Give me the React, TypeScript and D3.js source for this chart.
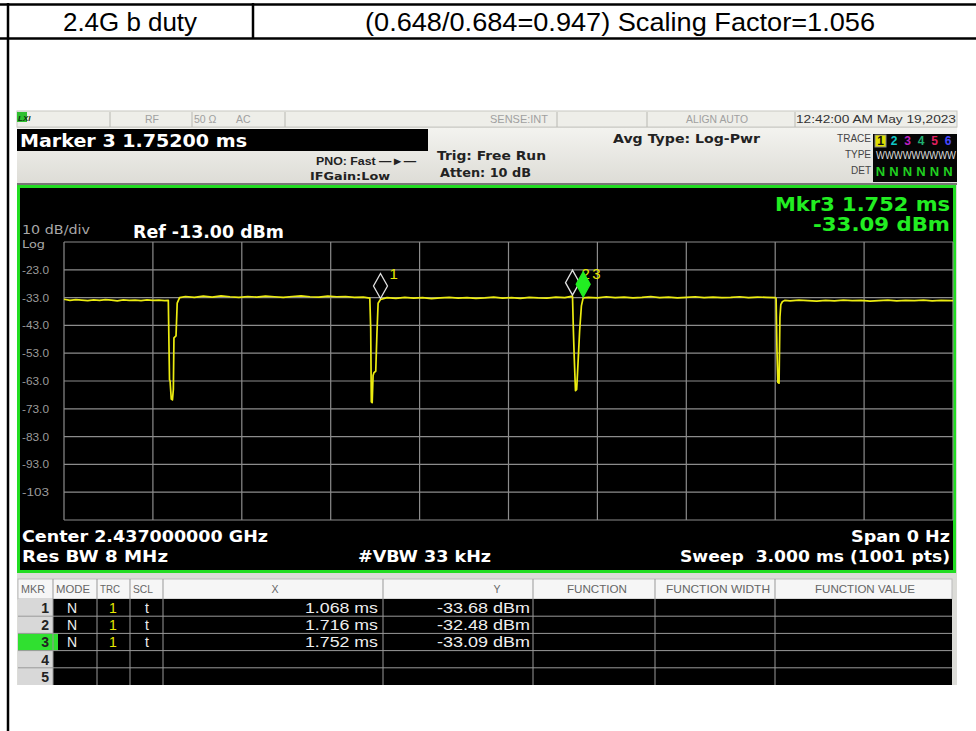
import React from "react";
import * as d3 from "d3";

// ---- data ----
const headerLeft = "2.4G b duty";
const headerRight = "(0.648/0.684=0.947) Scaling Factor=1.056";

const yTickValues = [-23, -33, -43, -53, -63, -73, -83, -93, -103];
const yTickLabels = ["-23.0", "-33.0", "-43.0", "-53.0", "-63.0", "-73.0", "-83.0", "-93.0", "-103"];
const xGridValues = [0, 0.3, 0.6, 0.9, 1.2, 1.5, 1.8, 2.1, 2.4, 2.7, 3.0];
const yGridValues = [-13, -23, -33, -43, -53, -63, -73, -83, -93, -103, -113];

// trace samples: [time ms, level dBm]
const traceSegA: [number, number][] = [
  [0, -33.6], [0.02, -34.0], [0.04, -33.7], [0.06, -33.9], [0.08, -34.1], [0.10, -33.8], [0.12, -34.0],
  [0.14, -33.7], [0.16, -33.9], [0.18, -34.2], [0.20, -33.8], [0.22, -34.0], [0.24, -33.9], [0.26, -34.1],
  [0.28, -33.8], [0.30, -34.0], [0.32, -33.9], [0.34, -34.1], [0.352, -34.0],
];
const traceDip1: [number, number][] = [
  [0.356, -62.5], [0.358, -63.0], [0.362, -69.5], [0.366, -69.8], [0.369, -66.0], [0.371, -47.5],
  [0.378, -46.8], [0.382, -35.0], [0.39, -33.0],
];
const traceSegB: [number, number][] = [
  [0.41, -32.6], [0.44, -32.9], [0.47, -32.5], [0.50, -32.8], [0.53, -32.4], [0.56, -32.7], [0.59, -32.9],
  [0.62, -32.6], [0.65, -32.8], [0.68, -32.5], [0.71, -32.7], [0.74, -32.9], [0.77, -32.6], [0.80, -32.4],
  [0.83, -32.7], [0.86, -32.8], [0.89, -32.5], [0.92, -32.7], [0.95, -32.6], [0.98, -32.9], [1.01, -32.8],
  [1.032, -33.2],
];
const traceDip2: [number, number][] = [
  [1.035, -44.0], [1.037, -70.5], [1.040, -70.8], [1.043, -61.0], [1.046, -60.0], [1.052, -59.5],
  [1.056, -46.0], [1.060, -35.0], [1.068, -33.7],
];
const traceSegC: [number, number][] = [
  [1.09, -33.0], [1.12, -33.3], [1.15, -32.9], [1.18, -33.2], [1.21, -33.0], [1.24, -33.4], [1.27, -33.1],
  [1.30, -32.9], [1.33, -33.2], [1.36, -33.0], [1.39, -33.3], [1.42, -33.1], [1.45, -32.8], [1.48, -33.2],
  [1.51, -33.0], [1.54, -33.3], [1.57, -32.9], [1.60, -33.1], [1.63, -33.2], [1.66, -32.8], [1.69, -33.0],
  [1.716, -32.5],
];
const traceDip3: [number, number][] = [
  [1.719, -45.0], [1.722, -55.0], [1.726, -66.5], [1.730, -66.0], [1.733, -60.0], [1.740, -45.0],
  [1.746, -36.0], [1.752, -33.1],
];
const traceSegD: [number, number][] = [
  [1.77, -32.9], [1.80, -33.1], [1.83, -32.7], [1.86, -33.0], [1.89, -32.8], [1.92, -33.1], [1.95, -32.9],
  [1.98, -32.6], [2.01, -33.0], [2.04, -32.8], [2.07, -33.1], [2.10, -32.9], [2.13, -32.7], [2.16, -33.0],
  [2.19, -32.8], [2.22, -33.0], [2.25, -32.9], [2.28, -32.7], [2.31, -33.0], [2.34, -32.8], [2.37, -32.9],
  [2.40, -33.0],
];
const traceDip4: [number, number][] = [
  [2.403, -33.2], [2.406, -52.0], [2.409, -63.5], [2.413, -63.8], [2.416, -40.0], [2.419, -35.5],
  [2.424, -34.5], [2.432, -34.0],
];
const traceSegE: [number, number][] = [
  [2.45, -34.2], [2.48, -33.9], [2.51, -34.1], [2.54, -34.3], [2.57, -34.0], [2.60, -34.2], [2.63, -33.9],
  [2.66, -34.1], [2.69, -34.0], [2.72, -34.3], [2.75, -34.1], [2.78, -33.9], [2.81, -34.2], [2.84, -34.0],
  [2.87, -34.1], [2.90, -33.9], [2.93, -34.2], [2.96, -34.0], [3.0, -34.1],
];

const markerIds = [1, 2, 3];
const markerTimes = [1.068, 1.716, 1.752];
const markerLevels = [-33.68, -32.48, -33.09];
const markerXText = ["1.068 ms", "1.716 ms", "1.752 ms"];
const markerYText = ["-33.68 dBm", "-32.48 dBm", "-33.09 dBm"];

const traceNumColors = ["#e8e800", "#10c8c8", "#c020c0", "#20b070", "#e02060", "#4848ff"];

const FONT = "'Liberation Sans', Arial, sans-serif";
const INST = "'DejaVu Sans', 'Liberation Sans', Arial, sans-serif";

export default function App() {
  const x = d3.scaleLinear().domain([0, 3]).range([64, 953]);
  const y = d3.scaleLinear().domain([-113, -13]).range([520, 242]);
  const pts: [number, number][] = [
    ...traceSegA, ...traceDip1, ...traceSegB, ...traceDip2, ...traceSegC,
    ...traceDip3, ...traceSegD, ...traceDip4, ...traceSegE,
  ];
  const line = d3
    .line<[number, number]>()
    .x((d) => x(d[0]))
    .y((d) => y(d[1]));
  const tracePath = line(pts) || "";

  const tableTop = 579;
  const headH = 20;
  const rowH = 17.2;
  const cols = [18, 53, 97, 130, 163, 383, 533, 655, 775, 952];

  const diamond = (cx: number, by: number) =>
    `M${cx},${by - 25} L${cx + 7},${by - 12.5} L${cx},${by} L${cx - 7},${by - 12.5} Z`;

  const T = (props: any) => <text lengthAdjust="spacingAndGlyphs" {...props} />;

  return (
    <svg
      width={976}
      height={731}
      viewBox="0 0 976 731"
      style={{ position: "absolute", left: 0, top: 0, background: "#fff" }}
      fontFamily={FONT}
    >
      <defs>
        <linearGradient id="hdr" x1="0" y1="0" x2="0" y2="1">
          <stop offset="0" stopColor="#f3f3ef" />
          <stop offset="1" stopColor="#dddcd6" />
        </linearGradient>
      </defs>
      <rect x={0} y={0} width={976} height={731} fill="#fff" />

      {/* outer document table */}
      <line x1={0} x2={976} y1={4.5} y2={4.5} stroke="#000" strokeWidth={2.5} />
      <line x1={0} x2={976} y1={38.5} y2={38.5} stroke="#000" strokeWidth={2.5} />
      <line x1={8} x2={8} y1={3} y2={731} stroke="#000" strokeWidth={2.5} />
      <line x1={253} x2={253} y1={3} y2={39} stroke="#000" strokeWidth={2.5} />
      <T x={63} y={31} fontSize={26} textLength={134} fill="#000">{headerLeft}</T>
      <T x={365} y={31} fontSize={26} textLength={510} fill="#000">{headerRight}</T>

      {/* screenshot frame */}
      <rect x={17} y={111} width={940} height={574} fill="#dcdcd8" />
      {/* status bar */}
      <rect x={17} y={111} width={940} height={16} fill="#eeeee9" stroke="#c8c8c2" strokeWidth={1} />
      <rect x={17} y={112} width={10} height={10} fill="#30c030" />
      <text x={18} y={121} fontSize={8} fontWeight="bold" fontStyle="italic" fill="#103010">LXI</text>
      {[110, 192, 285, 557, 647, 795].map((sx) => (
        <line key={sx} x1={sx} x2={sx} y1={112} y2={127} stroke="#b8b8b2" />
      ))}
      <text x={145} y={123} fontSize={10.5} fill="#a0a0a0">RF</text>
      <text x={194} y={123} fontSize={10.5} fill="#a0a0a0">50 Ω</text>
      <text x={236} y={123} fontSize={10.5} fill="#a0a0a0">AC</text>
      <T x={490} y={123} fontSize={10.5} textLength={58} fill="#a0a0a0">SENSE:INT</T>
      <T x={686} y={123} fontSize={10.5} textLength={62} fill="#a0a0a0">ALIGN AUTO</T>
      <T x={796} y={123} fontSize={11.5} textLength={160} fill="#333">12:42:00 AM May 19,2023</T>

      {/* header area */}
      <rect x={17} y={128} width={940} height={56} fill="url(#hdr)" />
      <rect x={17} y={129} width={411} height={22} fill="#000" />
      <T x={20} y={147} fontFamily={INST} fontSize={18} fontWeight="bold" textLength={227} fill="#fff">Marker 3 1.75200 ms</T>
      <T x={316} y={165} fontSize={11} fontWeight="bold" textLength={100} fill="#222">{"PNO: Fast  —►—"}</T>
      <T x={310} y={180} fontFamily={INST} fontSize={11} fontWeight="bold" textLength={80} fill="#222">IFGain:Low</T>
      <T x={437} y={160} fontFamily={INST} fontSize={12.5} fontWeight="bold" textLength={109} fill="#222">Trig: Free Run</T>
      <T x={440} y={177} fontFamily={INST} fontSize={12} fontWeight="bold" textLength={91} fill="#222">Atten: 10 dB</T>
      <T x={613} y={143} fontFamily={INST} fontSize={12.5} fontWeight="bold" textLength={147} fill="#222">Avg Type: Log-Pwr</T>
      <text x={871} y={142} fontSize={10} fill="#444" textAnchor="end">TRACE</text>
      <text x={871} y={158} fontSize={10} fill="#444" textAnchor="end">TYPE</text>
      <text x={871} y={174} fontSize={10} fill="#444" textAnchor="end">DET</text>
      <rect x={873} y={134} width={84} height={48} fill="#050505" />
      <rect x={875} y={135} width={11} height={12} fill="#e0e000" stroke="#888" />
      {traceNumColors.map((c, i) => (
        <text
          key={i}
          x={880.5 + i * 13.5}
          y={145}
          fontSize={12}
          fontWeight="bold"
          textAnchor="middle"
          fill={i === 0 ? "#111" : c}
        >
          {i + 1}
        </text>
      ))}
      <T x={876} y={159} fontSize={11} fill="#ddd" textLength={80}>WWWWWWWWW</T>
      {traceNumColors.map((c, i) => (
        <text key={"n" + i} x={880.5 + i * 13.5} y={176} fontSize={13} fontWeight="bold" textAnchor="middle" fill="#20d020">
          N
        </text>
      ))}
      <line x1={17} x2={957} y1={184} y2={184} stroke="#555" strokeWidth={1.5} />

      {/* plot frame */}
      <rect x={18.5} y={186.5} width={936} height={385} fill="#000" stroke="#22dd22" strokeWidth={3} />

      {/* grid */}
      {xGridValues.map((v) => (
        <line key={"gx" + v} x1={x(v)} x2={x(v)} y1={y(-13)} y2={y(-113)} stroke="#8c8c8c" strokeWidth={1.2} />
      ))}
      {yGridValues.map((v) => (
        <line key={"gy" + v} x1={x(0)} x2={x(3)} y1={y(v)} y2={y(v)} stroke="#8c8c8c" strokeWidth={1.2} />
      ))}
      {yTickValues.map((v, i) => (
        <T key={"yl" + v} x={22} y={y(v) + 4} fontSize={11} textLength={27} fill="#9a9a9a">
          {yTickLabels[i]}
        </T>
      ))}
      <T x={22} y={234} fontFamily={INST} fontSize={11.5} textLength={68} fill="#a8a8a8">10 dB/div</T>
      <T x={22} y={248} fontFamily={INST} fontSize={11} textLength={23} fill="#a8a8a8">Log</T>
      <T x={133} y={238} fontFamily={INST} fontSize={17} fontWeight="bold" textLength={151} fill="#fff">Ref -13.00 dBm</T>
      <T x={775} y={211} fontFamily={INST} fontSize={19} fontWeight="bold" textLength={175} fill="#22ee22">Mkr3 1.752 ms</T>
      <T x={813} y={231} fontFamily={INST} fontSize={19} fontWeight="bold" textLength={137} fill="#22ee22">-33.09 dBm</T>

      {/* trace */}
      <path d={tracePath} fill="none" stroke="#ecec10" strokeWidth={1.7} strokeLinejoin="round" />

      {/* markers */}
      {markerIds.map((id, i) => {
        const cx = x(markerTimes[i]);
        return (
          <text key={"ml" + id} x={cx + 9} y={279} fontSize={15} fill="#e8e800">
            {id}
          </text>
        );
      })}
      {markerIds.map((id, i) => {
        const cx = x(markerTimes[i]);
        const by = y(markerLevels[i]) - 1;
        const active = id === 3;
        return (
          <path
            key={"md" + id}
            d={diamond(cx, by)}
            fill={active ? "#22ee22" : "none"}
            stroke={active ? "#22ee22" : "#e0e0e0"}
            strokeWidth={1.3}
          />
        );
      })}

      {/* bottom annotations */}
      <T x={22} y={542} fontFamily={INST} fontSize={16} fontWeight="bold" textLength={246} fill="#fff">Center 2.437000000 GHz</T>
      <T x={22} y={562} fontFamily={INST} fontSize={16} fontWeight="bold" textLength={146} fill="#fff">Res BW 8 MHz</T>
      <T x={358} y={562} fontFamily={INST} fontSize={16} fontWeight="bold" textLength={133} fill="#fff">#VBW 33 kHz</T>
      <T x={851} y={542} fontFamily={INST} fontSize={16} fontWeight="bold" textLength={99} fill="#fff">Span 0 Hz</T>
      <T x={680} y={562} fontFamily={INST} fontSize={16} fontWeight="bold" textLength={270} fill="#fff" style={{ whiteSpace: "pre" }}>{"Sweep  3.000 ms (1001 pts)"}</T>

      {/* marker table */}
      <rect x={18} y={tableTop} width={934} height={headH} fill="#f6f6f6" stroke="#bbb" />
      <rect x={18} y={tableTop + headH} width={934} height={rowH * 5} fill="#000" />
      <rect x={18} y={tableTop + headH} width={35} height={rowH * 5} fill="#d8d8d8" />
      <rect x={18} y={tableTop + headH + rowH * 2} width={40} height={rowH} fill="#30e030" />
      {cols.slice(1, -1).map((cx) => (
        <line key={"c" + cx} x1={cx} x2={cx} y1={tableTop} y2={tableTop + headH + rowH * 5} stroke="#999" />
      ))}
      {[1, 2, 3, 4].map((r) => (
        <line
          key={"r" + r}
          x1={18}
          x2={952}
          y1={tableTop + headH + rowH * r}
          y2={tableTop + headH + rowH * r}
          stroke="#9a9a9a"
        />
      ))}
      <g fontSize={10.5} fill="#666">
        <T x={21} y={tableTop + 14} textLength={24}>MKR</T>
        <T x={56} y={tableTop + 14} textLength={34}>MODE</T>
        <T x={100} y={tableTop + 14} textLength={20}>TRC</T>
        <T x={133} y={tableTop + 14} textLength={20}>SCL</T>
        <text x={275} y={tableTop + 14} textAnchor="middle">X</text>
        <text x={497} y={tableTop + 14} textAnchor="middle">Y</text>
        <T x={567} y={tableTop + 14} textLength={60}>FUNCTION</T>
        <T x={666} y={tableTop + 14} textLength={104}>FUNCTION WIDTH</T>
        <T x={815} y={tableTop + 14} textLength={100}>FUNCTION VALUE</T>
      </g>
      {[1, 2, 3, 4, 5].map((r, i) => (
        <text
          key={"mk" + r}
          x={49}
          y={tableTop + headH + rowH * i + 14}
          fontSize={14}
          fontWeight="bold"
          fill="#222"
          textAnchor="end"
        >
          {r}
        </text>
      ))}
      {markerIds.map((id, i) => {
        const ty = tableTop + headH + rowH * i + 14;
        return (
          <g key={"row" + id} fontSize={14}>
            <text x={72} y={ty} fill="#eee" textAnchor="middle">N</text>
            <text x={113} y={ty} fill="#e8e800" textAnchor="middle">1</text>
            <text x={147} y={ty} fill="#eee" textAnchor="middle">t</text>
            <T x={305} y={ty} textLength={73} fill="#eee">{markerXText[i]}</T>
            <T x={437} y={ty} textLength={93} fill="#eee">{markerYText[i]}</T>
          </g>
        );
      })}
    </svg>
  );
}
